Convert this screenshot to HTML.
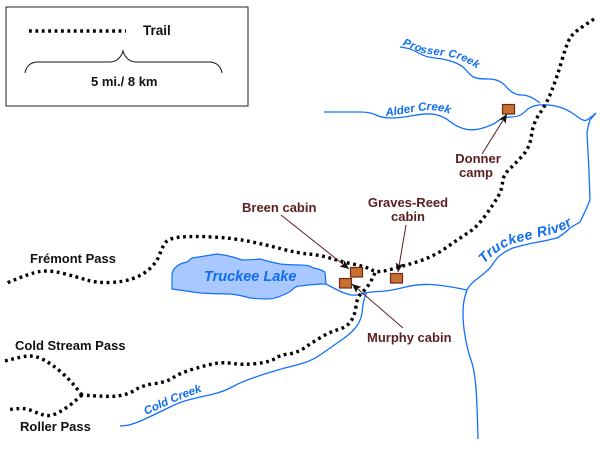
<!DOCTYPE html>
<html>
<head>
<meta charset="utf-8">
<style>
html,body{margin:0;padding:0;background:#fff;width:600px;height:450px;overflow:hidden}
svg{display:block}
text{font-family:"Liberation Sans",sans-serif;font-weight:bold}
.k{fill:#111;font-size:13px}
.b{fill:#5a1e20;font-size:13px}
.c{fill:#0f6cf5;font-size:11.5px;font-style:italic}
.r{fill:none;stroke:#1070ff;stroke-width:1.3;stroke-linejoin:round}
.t{fill:none;stroke:#000;stroke-width:3.4;stroke-dasharray:2.8 3.6;stroke-linejoin:round}
.h{fill:#c8702e;stroke:#6b2a1a;stroke-width:1.2}
.a{fill:none;stroke:#5a1e20;stroke-width:1}
</style>
</head>
<body>
<svg width="600" height="450" viewBox="0 0 600 450" xmlns="http://www.w3.org/2000/svg">
<defs>
<marker id="m" markerUnits="userSpaceOnUse" markerWidth="9" markerHeight="8" refX="9" refY="4" orient="auto"><path d="M0 0L9 4L0 8L2 4Z" fill="#111"/></marker>
<path id="p1" d="M402 45Q415 50 422 53Q435 55 445 56Q458 58 465 62Q472 65 480 71"/>
<path id="p2" d="M386 116C400 115 415 111 428 110C437 110 445 112 453 115"/>
<path id="p3" d="M146 415C165 406 185 397 204 391"/>
<path id="p4" d="M484 264Q497 250 512 244Q530 239 548 235Q562 232 574 224"/>
</defs>

<rect x="6" y="7" width="242" height="99" fill="#fff" stroke="#222" stroke-width="1"/>
<path class="t" d="M29 31H126"/>
<text class="k" x="143" y="35" style="font-size:13.5px">Trail</text>
<path d="M25 73C26 66 31 62 38 62H110C116 62 121 58 123 51C125 58 130 62 136 62H209C216 62 221 66 222 73" fill="none" stroke="#111" stroke-width="1"/>
<text class="k" x="91" y="86">5 mi./ 8 km</text>

<path d="M172 289L172 275Q172 270 177 266Q181 263 187 262L192 258Q205 256 217 254Q225 255 233 257L242 260Q250 260 260 259Q270 262 280 264Q290 265 300 265Q310 265 313 268Q320 269 325 272L326 284Q315 284 300 286Q296 286 293 289Q289 293 283 295Q275 299 267 299Q258 299 250 298Q240 295 230 294Q215 294 200 293Z" fill="#a8c8ff" stroke="#1070ff" stroke-width="1.2" stroke-linejoin="round"/>

<path class="r" d="M326 284L334.5 288.5Q343 293 349 294.5Q355 296 361 294Q367 292 378.5 291.5Q390 291 403.5 287.5Q417 284 430 284.5Q443 285 467 290"/>
<path class="r" d="M467 290Q470 284 477 279Q484 274 490 268Q494 262 498 257Q505 251 513 248Q523 245 533 243Q545 241 557 238Q564 234 570 228Q575 225 580 222Q585 212 590 200Q589 166 587 133Q588 126 590 120L596 113"/>
<path class="r" d="M324 112L360 112Q370 112 376 115Q382 118 391 118Q400 118 413.5 115.5Q427 113 435 114.5Q443 116 450 121.5Q457 127 465 129Q473 131 483 128Q493 125 498 121Q503 117 511.5 117Q520 117 525 111.5Q530 106 539 105Q548 104 557.5 106.5Q567 109 575 115Q583 121 585.5 120.5Q588 120 596 113"/>
<path class="r" d="M400 47L406 48Q412 49 418.5 53Q425 57 435 58Q445 59 453.5 62Q462 65 466 70Q470 75 473.5 77Q477 79 488.5 79Q500 79 506.5 87Q513 95 521.5 95Q530 95 540 103"/>
<path class="r" d="M467 290L465 296.5Q463 303 463 314Q463 325 465.5 338.5Q468 352 471 360Q474 368 475.5 383Q477 398 478 439"/>
<path class="r" d="M120 426L126 425.5Q132 425 146 418.5Q160 412 170 407Q180 402 190 399.5Q200 397 211.5 394.5Q223 392 233 386.5Q243 381 260 375.5Q277 370 287 367.5Q297 365 305 362.5Q313 360 321.5 354Q330 348 341.5 340Q353 332 357.5 325Q362 318 362.5 309Q363 300 367 292"/>

<path class="t" d="M594 19L583.5 26Q573 33 570 38Q567 43 562 60Q557 77 552 90Q547 103 540 113Q533 123 531.5 135Q530 147 523.5 154.5Q517 162 510 168.5Q503 175 502.5 182.5Q502 190 497.5 197.5Q493 205 485 216Q477 227 468.5 232.5Q460 238 446.5 247.5Q433 257 416.5 262Q400 267 388.5 270Q377 273 372 270Q367 267 355 264.5Q343 262 331.5 258.5Q320 255 308.5 254Q297 253 282 249Q267 245 250 241.5Q233 238 213 237Q193 236 181.5 237Q170 238 166.5 241.5Q163 245 160 253.5Q157 262 150 268.5Q143 275 133 278.5Q123 282 110 282.5Q97 283 87 280Q77 277 63.5 273.5Q50 270 40 271.5Q30 273 7 283"/>
<path class="t" d="M375 273L371.5 280Q368 287 362.5 292Q357 297 356 306Q355 315 351 321Q347 327 338.5 329.5Q330 332 321.5 337Q313 342 305 347.5Q297 353 288.5 354Q280 355 275 358.5Q270 362 256.5 363.5Q243 365 233 363.5Q223 362 215 363.5Q207 365 193.5 369Q180 373 173.5 377.5Q167 382 155 383.5Q143 385 135 390Q127 395 117 396Q107 397 82 395"/>
<path class="t" d="M82 395L76 387.5Q70 380 61.5 372.5Q53 365 45 360.5Q37 356 30 356Q23 356 5 361"/>
<path class="t" d="M82 395L74.5 401.5Q67 408 58.5 412.5Q50 417 43.5 415Q37 413 30 410Q23 407 7 410"/>

<rect class="h" x="350.500" y="267.500" width="12" height="9.500"/>
<rect class="h" x="339.500" y="278.500" width="12" height="9.500"/>
<rect class="h" x="390.500" y="273.500" width="12" height="9.500"/>
<rect class="h" x="502.500" y="104.500" width="12" height="9.500"/>

<path class="a" d="M281 215L349 269" marker-end="url(#m)"/>
<path class="a" d="M406 225L398 272" marker-end="url(#m)"/>
<path class="a" d="M403 328L352 284" marker-end="url(#m)"/>
<path class="a" d="M482 154L507 114" marker-end="url(#m)"/>

<text class="b" x="242" y="212">Breen cabin</text>
<text class="b" x="408" y="207" text-anchor="middle">Graves-Reed</text>
<text class="b" x="408" y="221" text-anchor="middle">cabin</text>
<text class="b" x="478" y="163" text-anchor="middle">Donner</text>
<text class="b" x="476" y="177" text-anchor="middle">camp</text>
<text class="b" x="367" y="342">Murphy cabin</text>

<text class="k" x="30" y="263">Frémont Pass</text>
<text class="k" x="15" y="350">Cold Stream Pass</text>
<text class="k" x="20" y="431">Roller Pass</text>

<text class="c" x="204" y="281" style="font-size:14.500px">Truckee Lake</text>
<text class="c" style="font-size:11px;letter-spacing:.4px"><textPath href="#p1">Prosser Creek</textPath></text>
<text class="c"><textPath href="#p2">Alder Creek</textPath></text>
<text class="c"><textPath href="#p3">Cold Creek</textPath></text>
<text class="c" style="font-size:14px;letter-spacing:.5px"><textPath href="#p4">Truckee River</textPath></text>
</svg>
</body>
</html>
